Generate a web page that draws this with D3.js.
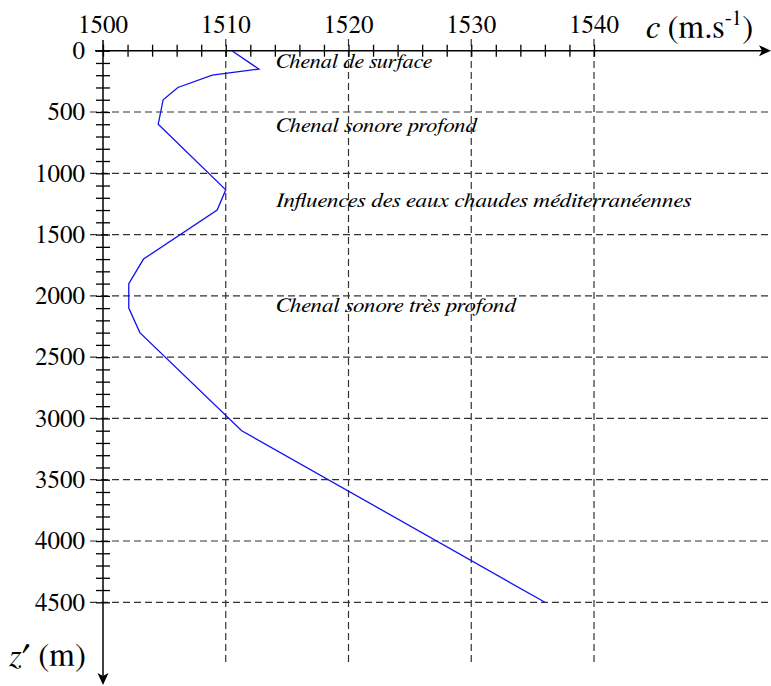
<!DOCTYPE html>
<html>
<head>
<meta charset="utf-8">
<script src="https://cdn.jsdelivr.net/npm/d3@7"></script>
<style>
  body { margin: 0; background: #fff; }
  svg { display: block; }
</style>
</head>
<body>
<svg width="771" height="686"></svg>
<script>
// profil de célérité du son (Méditerranée)
const depth = [0, 150, 200, 300, 400, 600, 1135, 1300, 1700, 1900, 2100, 2300, 3100, 4500];
const speed = [1510.5, 1512.7, 1508.9, 1506.1, 1504.9, 1504.5, 1510.0, 1509.3, 1503.3, 1502.1, 1502.1, 1503.0, 1511.3, 1536.0];

const xTickLabels = [1500, 1510, 1520, 1530, 1540];
const yTickLabels = [0, 500, 1000, 1500, 2000, 2500, 3000, 3500, 4000, 4500];

const zones = ["Chenal de surface", "Chenal sonore profond",
               "Influences des eaux chaudes méditerranéennes", "Chenal sonore très profond"];
const zoneDepth = [145, 660, 1275, 2130];

const serifFont = "FreeSerif";
const svg = d3.select("svg");

const x = d3.scaleLinear().domain([1500, 1540]).range([103, 594]);
const y = d3.scaleLinear().domain([0, 4500]).range([50.7, 602.3]);
const y0 = y(0), x0 = x(1500);

// grille pointillée
svg.append("g").selectAll("line")
    .data(xTickLabels.slice(1))
    .enter().append("line")
    .attr("x1", d => x(d)).attr("x2", d => x(d))
    .attr("y1", 39).attr("y2", 662)
    .attr("stroke", "#333").attr("stroke-width", 1.2).attr("stroke-dasharray", "7,4");

svg.append("g").selectAll("line")
    .data(yTickLabels.slice(1))
    .enter().append("line")
    .attr("x1", 90).attr("x2", 771)
    .attr("y1", d => y(d)).attr("y2", d => y(d))
    .attr("stroke", "#333").attr("stroke-width", 1.2).attr("stroke-dasharray", "7,4");

// petites graduations des deux côtés des axes
const tickUp = svg.append("g").attr("transform", `translate(0,${y0})`)
    .call(d3.axisTop(x).ticks(20).tickSize(6).tickFormat(""));
const tickDown = svg.append("g").attr("transform", `translate(0,${y0})`)
    .call(d3.axisBottom(x).ticks(20).tickSize(6).tickFormat(""));
const tickLeft = svg.append("g").attr("transform", `translate(${x0},0)`)
    .call(d3.axisLeft(y).ticks(45).tickSize(7).tickFormat(""));
const tickRight = svg.append("g").attr("transform", `translate(${x0},0)`)
    .call(d3.axisRight(y).ticks(45).tickSize(7).tickFormat(""));
[tickUp, tickDown, tickLeft, tickRight].forEach(g => {
    g.select(".domain").remove();
    g.selectAll(".tick line").attr("stroke", "#000").attr("stroke-width", 1.3);
});

// axes avec flèches
svg.append("line").attr("x1", 95).attr("x2", 764).attr("y1", y0).attr("y2", y0)
    .attr("stroke", "#000").attr("stroke-width", 1.5);
svg.append("path")
    .attr("d", `M771,${y0} L759,${y0 - 5.5} L762,${y0} L759,${y0 + 5.5} Z`)
    .attr("fill", "#000");
svg.append("line").attr("x1", x0).attr("x2", x0).attr("y1", 40).attr("y2", 678)
    .attr("stroke", "#000").attr("stroke-width", 1.5);
svg.append("path")
    .attr("d", `M${x0},685 L${x0 - 5.5},673 L${x0},676 L${x0 + 5.5},673 Z`)
    .attr("fill", "#000");

// libellés des graduations
svg.append("g").selectAll("text")
    .data(xTickLabels)
    .enter().append("text")
    .attr("x", d => x(d)).attr("y", 33)
    .attr("text-anchor", "middle")
    .attr("font-family", serifFont).attr("font-size", 25)
    .text(d => d);

svg.append("g").selectAll("text")
    .data(yTickLabels)
    .enter().append("text")
    .attr("x", 85).attr("y", d => y(d)).attr("dy", "0.33em")
    .attr("text-anchor", "end")
    .attr("font-family", serifFont).attr("font-size", 25)
    .text(d => d);

// titres des axes
const cLab = svg.append("text").attr("x", 646).attr("y", 38)
    .attr("font-family", serifFont).attr("font-size", 33);
cLab.append("tspan").attr("font-style", "italic").text("c");
cLab.append("tspan").text(" (m.s");
cLab.append("tspan").attr("dy", -13).attr("font-size", 21).text("-1");
cLab.append("tspan").attr("dy", 13).text(")");

const zLab = svg.append("text").attr("x", 9).attr("y", 666)
    .attr("font-family", serifFont).attr("font-size", 33);
zLab.append("tspan").attr("font-style", "italic").text("z");
zLab.append("tspan").text("′ (m)");

// courbe c(z')
const line = d3.line().x(d => x(d[0])).y(d => y(d[1]));
svg.append("path")
    .datum(speed.map((c, i) => [c, depth[i]]))
    .attr("d", line)
    .attr("fill", "none").attr("stroke", "#1010f0").attr("stroke-width", 1.3);

// zones
const zoneWidth = [156, 201, 415, 240];
svg.append("g").selectAll("text")
    .data(zones)
    .enter().append("text")
    .attr("x", 276).attr("y", (d, i) => y(zoneDepth[i]))
    .attr("textLength", (d, i) => zoneWidth[i])
    .attr("lengthAdjust", "spacingAndGlyphs")
    .attr("font-family", serifFont).attr("font-style", "italic")
    .attr("font-size", 21)
    .text(d => d);
</script>
</body>
</html>
